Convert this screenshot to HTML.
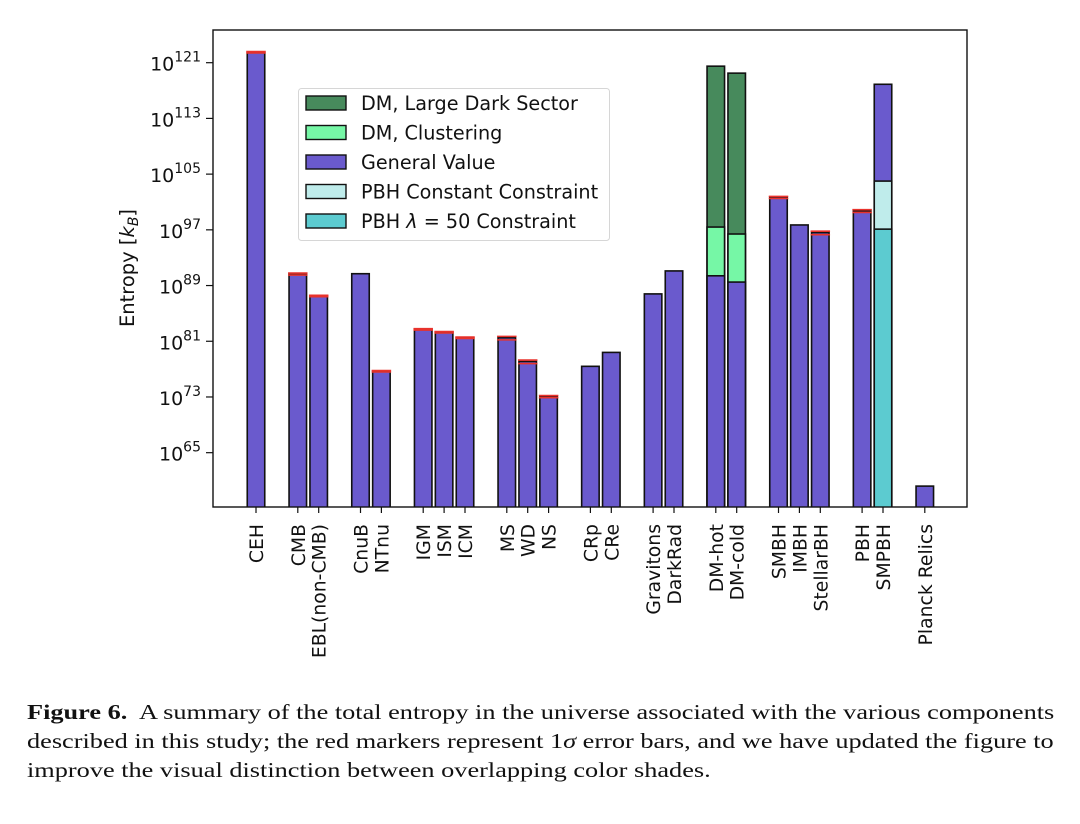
<!DOCTYPE html>
<html><head><meta charset="utf-8">
<style>
body{margin:0;background:#fff;width:1080px;height:824px;overflow:hidden}
svg{position:absolute;left:0;top:0}
.cap{position:absolute;left:27px;top:698px;width:900px;font-family:"Liberation Serif",serif;font-size:21.3px;line-height:29px;color:#111;white-space:nowrap;transform:scaleX(1.235);transform-origin:0 0}
</style></head>
<body>
<svg id="chart" width="1080" height="690" font-family="DejaVu Sans, Liberation Sans, sans-serif"></svg>
<div class="cap"><b>Figure 6.</b>&nbsp; A summary of the total entropy in the universe associated with the various components<br>described in this study; the red markers represent 1<i>σ</i> error bars, and we have updated the figure to<br>improve the visual distinction between overlapping color shades.</div>
<script>
const categories=["CEH","CMB","EBL(non-CMB)","CnuB","NTnu","IGM","ISM","ICM","MS","WD","NS","CRp","CRe","Gravitons","DarkRad","DM-hot","DM-cold","SMBH","IMBH","StellarBH","PBH","SMPBH","Planck Relics"];
const slots=[0,2,3,5,6,8,9,10,12,13,14,16,17,19,20,22,23,25,26,27,29,30,32];
const generalValue=[122.5,90.7,87.5,90.7,76.7,82.7,82.3,81.5,81.5,78.1,73.1,77.4,79.4,87.8,91.1,90.4,89.5,101.7,97.7,96.6,99.7,117.9,60.2];
const dmLarge={"DM-hot":120.5,"DM-cold":119.5};
const dmClustering={"DM-hot":97.4,"DM-cold":96.4};
const pbhConstant={"SMPBH":104.0};
const pbhLambda={"SMPBH":97.1};
const errLow={"CEH":122.4,"CMB":90.5,"EBL(non-CMB)":87.4,"NTnu":76.6,"IGM":82.6,"ISM":82.2,"ICM":81.4,"MS":81.2,"WD":77.8,"NS":72.9,"SMBH":101.5,"StellarBH":96.3,"PBH":99.5};
const errHigh={"CEH":122.6,"CMB":90.8,"EBL(non-CMB)":87.6,"NTnu":76.8,"IGM":82.8,"ISM":82.4,"ICM":81.6,"MS":81.7,"WD":78.3,"NS":73.2,"SMBH":101.8,"StellarBH":96.8,"PBH":99.9};
const yTicks=[65,73,81,89,97,105,113,121];

const NS="http://www.w3.org/2000/svg";
const svg=document.getElementById("chart");
const L=213,R=967,T=30,B=507;
function yS(v){return 62.7+(121-v)*6.964;}
function xS(s){return 256+s*20.9;}
const BW=17.5;
function mk(tag,attrs,parent){const e=document.createElementNS(NS,tag);for(const k in attrs)e.setAttribute(k,attrs[k]);(parent||svg).appendChild(e);return e;}

const plot=mk("g",{});


const clip=mk("clipPath",{id:"cp"});mk("rect",{x:L,y:T,width:R-L,height:B-T},clip);
const bars=mk("g",{"clip-path":"url(#cp)"},plot);

function bar(i,v,color,name){
  const x=xS(slots[i])-BW/2,y=yS(v);
  const r=mk("rect",{x:x,y:y,width:BW,height:B-y+2,fill:color,stroke:"#111","stroke-width":1.6},bars);
  
  
}
categories.forEach((c,i)=>{
  const key=c.toLowerCase().replace(/[^a-z0-9]+/g,'-');
  if(dmLarge[c]!==undefined)bar(i,dmLarge[c],"#478a5c","bar-dm-large-"+key);
  if(dmClustering[c]!==undefined)bar(i,dmClustering[c],"#76f7a6","bar-dm-clustering-"+key);
  if(pbhLambda[c]!==undefined&&pbhConstant[c]!==undefined){
    bar(i,generalValue[i],"#6a5acd","bar-general-"+key);
    bar(i,pbhConstant[c],"#bfeceb","bar-pbh-constant-"+key);
    bar(i,pbhLambda[c],"#5ccbd0","bar-pbh-lambda-"+key);
  } else bar(i,generalValue[i],"#6a5acd","bar-general-"+key);
  if(errLow[c]!==undefined){
    const x1=xS(slots[i])-BW/2-1,x2=xS(slots[i])+BW/2+1;
    [errLow[c],errHigh[c]].forEach(v=>{
      const l=mk("line",{x1:x1,x2:x2,y1:yS(v),y2:yS(v),stroke:"#e8322c","stroke-width":1.6},bars);
      
      
    });
  }
  const tx=xS(slots[i])+7,ty=524;
  const t=mk("text",{x:tx,y:ty,transform:`rotate(-90 ${tx} ${ty})`,"text-anchor":"end","font-size":"18.8",fill:"#111"},svg);
  t.textContent=c;
  
  
  mk("line",{x1:xS(slots[i]),x2:xS(slots[i]),y1:B,y2:B+6,stroke:"#111","stroke-width":1.2});
});
const frame=mk("rect",{x:L,y:T,width:R-L,height:B-T,fill:"none",stroke:"#111","stroke-width":1.4});



yTicks.forEach(v=>{
  const y=yS(v);
  mk("line",{x1:L-7,x2:L,y1:y,y2:y,stroke:"#111","stroke-width":1.2});
  const t=mk("text",{x:201,y:y+8,"text-anchor":"end","font-size":"19",fill:"#111"});
  
  
  const a=mk("tspan",{},t);a.textContent="10";
  const b=mk("tspan",{dy:"-9","font-size":"14"},t);b.textContent=String(v);
});
const yt=mk("text",{x:134,y:268,transform:"rotate(-90 134 268)","text-anchor":"middle","font-size":"19.5",fill:"#111"});


yt.innerHTML='Entropy [<tspan font-style="italic">k</tspan><tspan font-style="italic" font-size="14" dy="4">B</tspan><tspan dy="-4">]</tspan>';

const leg=mk("g",{});


mk("rect",{x:298.5,y:88.5,width:311,height:152,rx:3,fill:"#fff",stroke:"#d6d6d6","stroke-width":1},leg);
const legItems=[["#478a5c","DM, Large Dark Sector"],["#76f7a6","DM, Clustering"],["#6a5acd","General Value"],["#bfeceb","PBH Constant Constraint"],["#5ccbd0","PBH λ = 50 Constraint"]];
legItems.forEach((it,k)=>{
  const y=103+k*29.5;
  const g=mk("g",{},leg);
  
  
  mk("rect",{x:306,y:y-7,width:40,height:14,fill:it[0],stroke:"#111","stroke-width":1.4},g);
  const t=mk("text",{x:361,y:y+7,"font-size":"19.2",fill:"#111"},g);
  if(k===4){t.innerHTML='PBH <tspan font-style="italic">λ</tspan> = 50 Constraint';}else t.textContent=it[1];
});
</script>
</body></html>
